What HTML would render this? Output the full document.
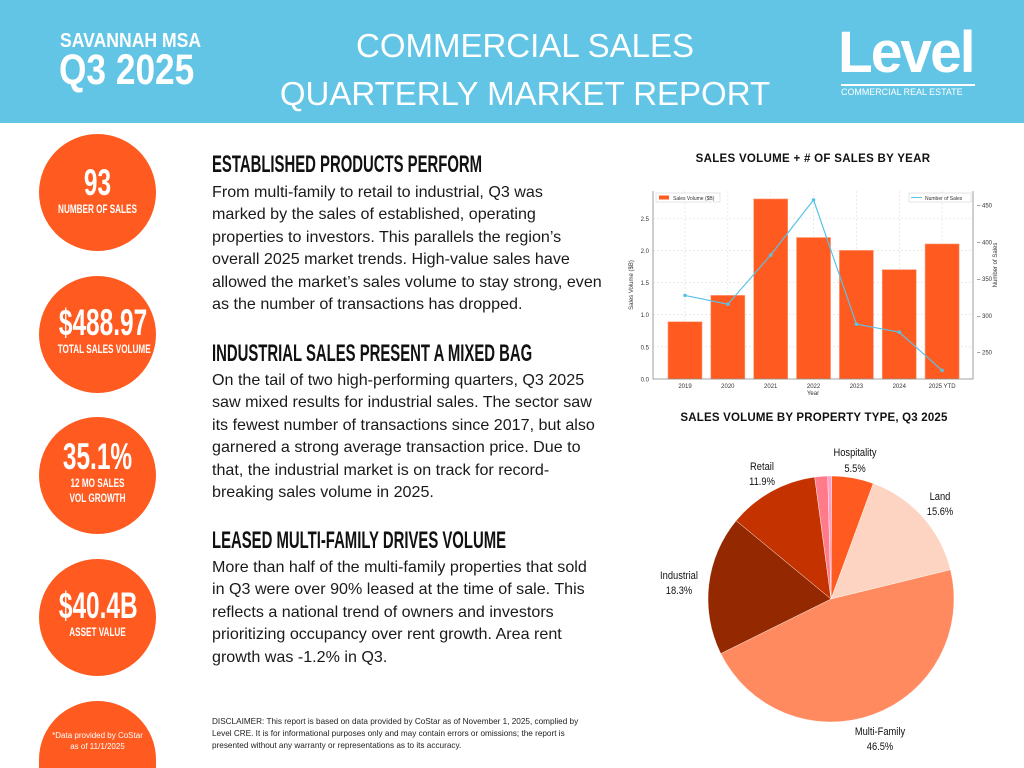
<!DOCTYPE html>
<html><head><meta charset="utf-8"><style>
*{margin:0;padding:0;box-sizing:border-box}
html{width:1024px;height:768px;overflow:hidden}
body{width:1024px;height:768px;position:relative;overflow:hidden;background:#fff;font-family:"Liberation Sans",sans-serif;color:#111}
.hdr{position:absolute;left:0;top:0;width:1024px;height:123px;background:#62c5e6}
.abs{position:absolute;white-space:nowrap}
.circ{position:absolute;left:39px;width:117px;height:117px;border-radius:50%;background:#ff5a1f;color:#fff;text-align:center;white-space:nowrap}
.big{font-weight:bold;font-size:37px;line-height:38px;transform:scaleX(0.66)}
.lbl{font-weight:bold;font-size:12px;line-height:15px;transform:scaleX(0.68)}
h2{position:absolute;left:212px;font-weight:bold;font-size:24px;white-space:nowrap;transform:scaleX(0.62);transform-origin:left}
.p{position:absolute;left:212px;font-size:16.1px;line-height:22.4px;white-space:nowrap;color:#1a1a1a}
svg{display:block}
</style></head><body>
<div class="hdr"></div>
<div class="abs" style="left:60px;top:30px;color:#fff;font-size:20px;font-weight:bold;transform:scaleX(0.88);transform-origin:left">SAVANNAH MSA</div>
<div class="abs" style="left:59px;top:46px;color:#fff;font-size:43px;font-weight:bold;transform:scaleX(0.82);transform-origin:left">Q3 2025</div>
<div class="abs" style="left:230px;width:590px;top:22px;color:#fff;font-size:33px;font-weight:300;text-align:center;line-height:48px">COMMERCIAL SALES<br>QUARTERLY MARKET REPORT</div>
<div class="abs" style="left:838px;top:20px;color:#fff;font-size:58px;font-weight:bold;letter-spacing:-2px;line-height:66px;transform:scaleX(0.98);transform-origin:left">Level</div>
<div class="abs" style="left:841px;top:84px;width:134px;height:2px;background:#fff"></div>
<div class="abs" style="left:841px;top:87px;color:#fff;font-size:9.5px;transform:scaleX(0.94);transform-origin:left">COMMERCIAL REAL ESTATE</div>

<div class="circ" style="top:134px"><div class="big" style="margin-top:30px">93</div><div class="lbl">NUMBER OF SALES</div></div>
<div class="circ" style="top:276px"><div class="big" style="margin-top:28px">$488.97</div><div class="lbl">TOTAL SALES VOLUME</div></div>
<div class="circ" style="top:417px"><div class="big" style="margin-top:21px">35.1%</div><div class="lbl">12 MO SALES<br>VOL GROWTH</div></div>
<div class="circ" style="top:559px"><div class="big" style="margin-top:28px">$40.4B</div><div class="lbl">ASSET VALUE</div></div>
<div class="circ" style="top:701px;height:67px;border-radius:58.5px 58.5px 0 0 / 58.5px 58.5px 0 0"><div style="margin-top:29px;font-size:8px;line-height:11px">*Data provided by CoStar<br>as of 11/1/2025</div></div>

<h2 style="top:151px">ESTABLISHED PRODUCTS PERFORM</h2>
<div class="p" style="top:181px">From multi-family to retail to industrial, Q3 was<br>marked by the sales of established, operating<br>properties to investors. This parallels the region’s<br>overall 2025 market trends. High-value sales have<br>allowed the market’s sales volume to stay strong, even<br>as the number of transactions has dropped.</div>
<h2 style="top:340px">INDUSTRIAL SALES PRESENT A MIXED BAG</h2>
<div class="p" style="top:369px">On the tail of two high-performing quarters, Q3 2025<br>saw mixed results for industrial sales. The sector saw<br>its fewest number of transactions since 2017, but also<br>garnered a strong average transaction price. Due to<br>that, the industrial market is on track for record-<br>breaking sales volume in 2025.</div>
<h2 style="top:527px">LEASED MULTI-FAMILY DRIVES VOLUME</h2>
<div class="p" style="top:556px">More than half of the multi-family properties that sold<br>in Q3 were over 90% leased at the time of sale. This<br>reflects a national trend of owners and investors<br>prioritizing occupancy over rent growth. Area rent<br>growth was -1.2% in Q3.</div>
<div class="abs" style="left:212px;top:716px;font-size:8.2px;line-height:12px;color:#222">DISCLAIMER: This report is based on data provided by CoStar as of November 1, 2025, complied by<br>Level CRE. It is for informational purposes only and may contain errors or omissions; the report is<br>presented without any warranty or representations as to its accuracy.</div>

<div class="abs" style="left:640px;width:346px;top:153px;text-align:center;font-size:11.5px;font-weight:bold;letter-spacing:0.3px">SALES VOLUME + # OF SALES BY YEAR</div>
<svg id="bar" class="abs" style="left:600px;top:180px" width="424" height="220" viewBox="600 180 424 220"></svg>
<div class="abs" style="left:640px;width:348px;top:412px;text-align:center;font-size:11.5px;font-weight:bold;letter-spacing:0.2px">SALES VOLUME BY PROPERTY TYPE, Q3 2025</div>
<svg id="pie" class="abs" style="left:620px;top:435px" width="404" height="325" viewBox="620 435 404 325"></svg>

<script>
const years=["2019","2020","2021","2022","2023","2024","2025 YTD"];
const volumes=[0.89,1.3,2.8,2.2,2.0,1.7,2.1];
const salesCounts=[327,315,382,457,288,277,225];
const leftTicks=[0,0.5,1.0,1.5,2.0,2.5];
const rightTicks=[250,300,350,400,450];
const pieLabels=["Hospitality","Land","Multi-Family","Industrial","Retail","Other","Other2"];
const pieValues=[5.5,15.6,46.5,18.3,11.9,1.7,0.5];
const pieColors=["#ff5a1f","#fdd3c2","#ff8a60","#942800","#c43200","#ff7b8a","#ff9ec8"];

const NS="http://www.w3.org/2000/svg";
function mk(svg,tag,a,txt){const e=document.createElementNS(NS,tag);for(const k in a)e.setAttribute(k,a[k]);if(txt!=null)e.textContent=txt;svg.appendChild(e);return e;}
(function(){
const s=document.getElementById('bar');
const L=653,R=973,T=191,B=379;
const yL=v=>B-v*64.3;
const yR=v=>B-(v-213.3)*0.735;
const xc=i=>685+i*42.85;
leftTicks.forEach(t=>{const g=mk(s,'line',{x1:L,x2:R,y1:yL(t),y2:yL(t),stroke:'#ddd','stroke-dasharray':'2,2','stroke-width':0.6});
const tx=mk(s,'text',{x:L-4,y:yL(t)+2.5,'font-size':6,'text-anchor':'end',fill:'#333'},t.toFixed(1));});
years.forEach((y,i)=>{const g=mk(s,'line',{x1:xc(i),x2:xc(i),y1:T,y2:B,stroke:'#ddd','stroke-dasharray':'2,2','stroke-width':0.6});});
volumes.forEach((v,i)=>{const r=mk(s,'rect',{x:xc(i)-17,y:yL(v),width:34,height:B-yL(v),fill:'#ff5a1f',stroke:'#ff9a78','stroke-width':0.6});
const t=mk(s,'text',{x:xc(i),y:B+9,'font-size':6,'text-anchor':'middle',fill:'#333'},years[i]);});
rightTicks.forEach(t=>{const tx=mk(s,'text',{x:R+4,y:yR(t)+2.5,'font-size':6,fill:'#333'},'– '+t);});
const ax=mk(s,'path',{d:`M${L},${T}V${B}H${R}V${T}`,fill:'none',stroke:'#888','stroke-width':0.8});
const pts=salesCounts.map((v,i)=>xc(i)+','+yR(v)).join(' ');
const pl=mk(s,'polyline',{points:pts,fill:'none',stroke:'#5bc2e7','stroke-width':1.2});
salesCounts.forEach((v,i)=>{const c=mk(s,'circle',{cx:xc(i),cy:yR(v),r:1.8,fill:'#5bc2e7'});});
const t1=mk(s,'text',{x:0,y:0,'font-size':6,fill:'#333','text-anchor':'middle',transform:`translate(${L-20},${(T+B)/2}) rotate(-90)`},'Sales Volume ($B)');
const t2=mk(s,'text',{x:0,y:0,'font-size':6,fill:'#333','text-anchor':'middle',transform:`translate(${R+24},${(T+B)/2-20}) rotate(-90)`},'Number of Sales');
const t3=mk(s,'text',{x:(L+R)/2,y:B+16,'font-size':6,fill:'#333','text-anchor':'middle'},'Year');
const lg1=mk(s,'rect',{x:656,y:193,width:64,height:9,fill:'#fff',stroke:'#ccc','stroke-width':0.5});
mk(s,'rect',{x:659,y:195.5,width:10,height:4,fill:'#ff5a1f'});
mk(s,'text',{x:673,y:199.8,'font-size':5,fill:'#333'},'Sales Volume ($B)');
const lg2=mk(s,'rect',{x:909,y:193,width:62,height:9,fill:'#fff',stroke:'#ccc','stroke-width':0.5});
mk(s,'line',{x1:911,x2:922,y1:197.5,y2:197.5,stroke:'#5bc2e7','stroke-width':1});
mk(s,'text',{x:925,y:199.8,'font-size':5,fill:'#333'},'Number of Sales');
})();
(function(){
const s=document.getElementById('pie');
const cx=831,cy=599,r=123;const tot=pieValues.reduce((a,b)=>a+b,0);
let a0=0.3*Math.PI/180;
const lab={Hospitality:[855,456,'5.5%',855,472],Land:[940,500,'15.6%',940,515],"Multi-Family":[880,735,'46.5%',880,750],Industrial:[679,579,'18.3%',679,594],Retail:[762,470,'11.9%',762,485]};
pieValues.forEach((v,i)=>{const a1=a0+v/tot*2*Math.PI;
const p=(a)=>[cx+r*Math.sin(a),cy-r*Math.cos(a)];const [x0,y0]=p(a0),[x1,y1]=p(a1);
const path=mk(s,'path',{d:`M${cx},${cy}L${x0},${y0}A${r},${r} 0 ${a1-a0>Math.PI?1:0} 1 ${x1},${y1}Z`,fill:pieColors[i],stroke:'#fff','stroke-width':0.4});


const l=lab[pieLabels[i]];if(l){const t=mk(s,'text',{x:l[0],y:l[1],'font-size':11,'text-anchor':'middle',fill:'#111',transform:`translate(${l[0]*0.15},0) scale(0.85,1)`},pieLabels[i]);
const t2=mk(s,'text',{x:l[3],y:l[4],'font-size':11,'text-anchor':'middle',fill:'#111',transform:`translate(${l[3]*0.15},0) scale(0.85,1)`},(v).toFixed(1)+'%');}
a0=a1;});
})();
</script>
</body></html>
